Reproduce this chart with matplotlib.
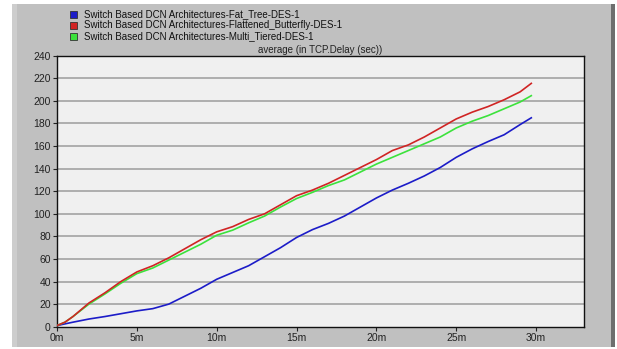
import matplotlib.pyplot as plt
from matplotlib.patches import Rectangle

# time in minutes
t = [0, 0.5, 1, 2, 3, 4, 5, 6, 7, 8, 9, 10, 11, 12, 13, 14, 15, 16, 17, 18, 19,
     20, 21, 22, 23, 24, 25, 26, 27, 28, 29, 29.7]

fat_tree = [1, 2.5, 4, 6.8, 9, 11.5, 14, 16, 20, 27, 34, 42, 48, 54, 62, 70, 79, 86,
            91.5, 98, 106, 114, 121, 127, 133.5, 141, 150, 157.5, 164, 170, 179, 185]
flattened_butterfly = [1, 4, 9, 21, 30, 40, 48.5, 54, 61, 69, 77, 84, 88.6, 95, 100, 108,
                       116, 121, 127, 134, 141, 148, 156, 161, 168, 176, 184, 190, 195,
                       201, 208, 215.5]
multi_tiered = [1, 4, 9, 20, 29, 38.5, 47, 52, 59, 66, 73, 81, 85.5, 92, 98, 106, 113.5,
                119, 125, 130, 137, 144, 150, 156, 162, 168, 176, 182, 187, 193, 199,
                204.6]

series_names = ['Switch Based DCN Architectures-Fat_Tree-DES-1',
                'Switch Based DCN Architectures-Flattened_Butterfly-DES-1',
                'Switch Based DCN Architectures-Multi_Tiered-DES-1']
series_colors = ['#1c1cc8', '#d02424', '#3ce23c']

y_ticks = list(range(0, 241, 20))
x_ticks = [0, 5, 10, 15, 20, 25, 30]
x_labels = ['0m', '5m', '10m', '15m', '20m', '25m', '30m']

plt.rcParams['font.family'] = ['Liberation Sans', 'DejaVu Sans']

W, H = 617, 349
fig = plt.figure(figsize=(W / 100, H / 100), dpi=100)
fig.patch.set_facecolor('white')

# grey panel behind everything
fig.patches.append(Rectangle((12 / W, 2 / H), 601 / W, 343 / H, transform=fig.transFigure,
                             facecolor='#c0c0c0', edgecolor='none', zorder=-3))
fig.patches.append(Rectangle((12 / W, 2 / H), 5 / W, 343 / H, transform=fig.transFigure,
                             facecolor='#cdcdcd', edgecolor='none', zorder=-2))
fig.patches.append(Rectangle((611 / W, 2 / H), 4 / W, 343 / H, transform=fig.transFigure,
                             facecolor='#6e6e6e', edgecolor='none', zorder=-2))

ax = fig.add_axes([57 / W, (H - 326.7) / H, 527 / W, 271 / H])
ax.set_zorder(2)
ax.set_facecolor('#f0f0f0')

for yv in y_ticks[1:-1]:
    ax.axhline(yv, color='#a8a8a8', lw=1.3, zorder=1)

ax.plot(t, fat_tree, color=series_colors[0], lw=1.2, zorder=3)
ax.plot(t, multi_tiered, color=series_colors[2], lw=1.2, zorder=3)
ax.plot(t, flattened_butterfly, color=series_colors[1], lw=1.2, zorder=4)

ax.set_xlim(0, 33)
ax.set_ylim(0, 240)
ax.set_yticks(y_ticks)
ax.set_xticks(x_ticks)
ax.set_xticklabels(x_labels)
ax.tick_params(axis='both', labelsize=7.5, colors='#222222', length=3, width=0.8, pad=1.5)
for s in ax.spines.values():
    s.set_color('#111111')
    s.set_linewidth(1.0)

ax.set_title('average (in TCP.Delay (sec))', fontsize=7, color='#222222', pad=2)

# legend block at the top
for i, (name, col) in enumerate(zip(series_names, series_colors)):
    yc = H - (14 + 11 * i)
    fig.patches.append(Rectangle((70 / W, (yc - 3.5) / H), 7 / W, 7 / H,
                                 transform=fig.transFigure, facecolor=col,
                                 edgecolor='#333333', lw=0.6, zorder=2))
    fig.text(84 / W, yc / H, name, fontsize=7, color='#111111', va='center', ha='left')

fig.savefig('out.png', dpi=100)
